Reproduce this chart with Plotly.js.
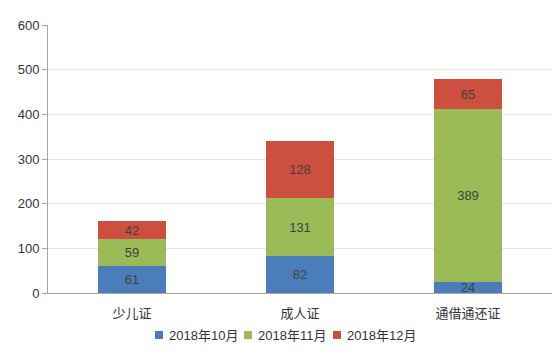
<!DOCTYPE html>
<html><head><meta charset="utf-8">
<script src="https://cdn.plot.ly/plotly-3.0.1.min.js"></script>
<style>html,body{margin:0;padding:0;background:#fff}#chart{width:560px;height:354px}</style>
</head><body><div id="chart"></div>
<script>
const categories = ["少儿证", "成人证", "通借通还证"];
const seriesNames = ["2018年10月", "2018年11月", "2018年12月"];
const oct = [61, 82, 24];
const nov = [59, 131, 389];
const dec = [42, 128, 65];
const yTicks = [0, 100, 200, 300, 400, 500, 600];
const colors = ["#4A7EBB", "#9BBB59", "#CD4F3F"];
const font = "Liberation Sans, Arial, Noto Sans CJK SC, sans-serif";

const W = 560, H = 354, M = {l: 48, r: 8, t: 25, b: 61};
const pw = W - M.l - M.r, ph = H - M.t - M.b;
const px2x = p => (p - M.l) / pw;
const py2y = p => (H - M.b - p) / ph;

const traces = [oct, nov, dec].map((vals, i) => ({
  type: "bar", x: categories, y: vals, name: seriesNames[i],
  marker: {color: colors[i], line: {width: 0}},
  text: vals.map(String), textposition: "inside", insidetextanchor: "middle", textangle: 0,
  textfont: {color: "#404040", size: 13, family: font},
  constraintext: "none", hoverinfo: "none", showlegend: false
}));

// custom legend (small squares close to the labels)
const legendStart = 155, legendPeriod = 89, sq = 8, legendY = 335;
const shapes = [], annotations = [];
seriesNames.forEach((n, i) => {
  const x0 = legendStart + i * legendPeriod;
  shapes.push({type: "rect", xref: "paper", yref: "paper",
    x0: px2x(x0), x1: px2x(x0 + sq), y0: py2y(legendY + sq / 2), y1: py2y(legendY - sq / 2),
    fillcolor: colors[i], line: {width: 0}});
  annotations.push({xref: "paper", yref: "paper", x: px2x(x0 + sq + 4), y: py2y(legendY),
    xanchor: "left", yanchor: "middle", showarrow: false, text: n,
    font: {size: 13, color: "#333", family: font}});
});

Plotly.newPlot("chart", traces, {
  width: W, height: H, barmode: "stack", bargap: 0.6,
  margin: Object.assign({autoexpand: false}, M),
  paper_bgcolor: "#fff", plot_bgcolor: "#fff",
  font: {family: font, size: 13, color: "#333"},
  xaxis: {showline: true, linecolor: "#A6A6A6", linewidth: 1, ticks: "", ticklabelstandoff: 8,
    tickfont: {size: 13, color: "#333"}},
  yaxis: {range: [0, 600], tickvals: yTicks, showline: true, linecolor: "#A6A6A6", linewidth: 1,
    ticks: "outside", ticklen: 5, tickcolor: "#A6A6A6", gridcolor: "#E6E6E6", zeroline: false,
    tickfont: {size: 13, color: "#333"}},
  showlegend: false,
  shapes: shapes, annotations: annotations
}, {displayModeBar: false, staticPlot: true});
</script></body></html>
